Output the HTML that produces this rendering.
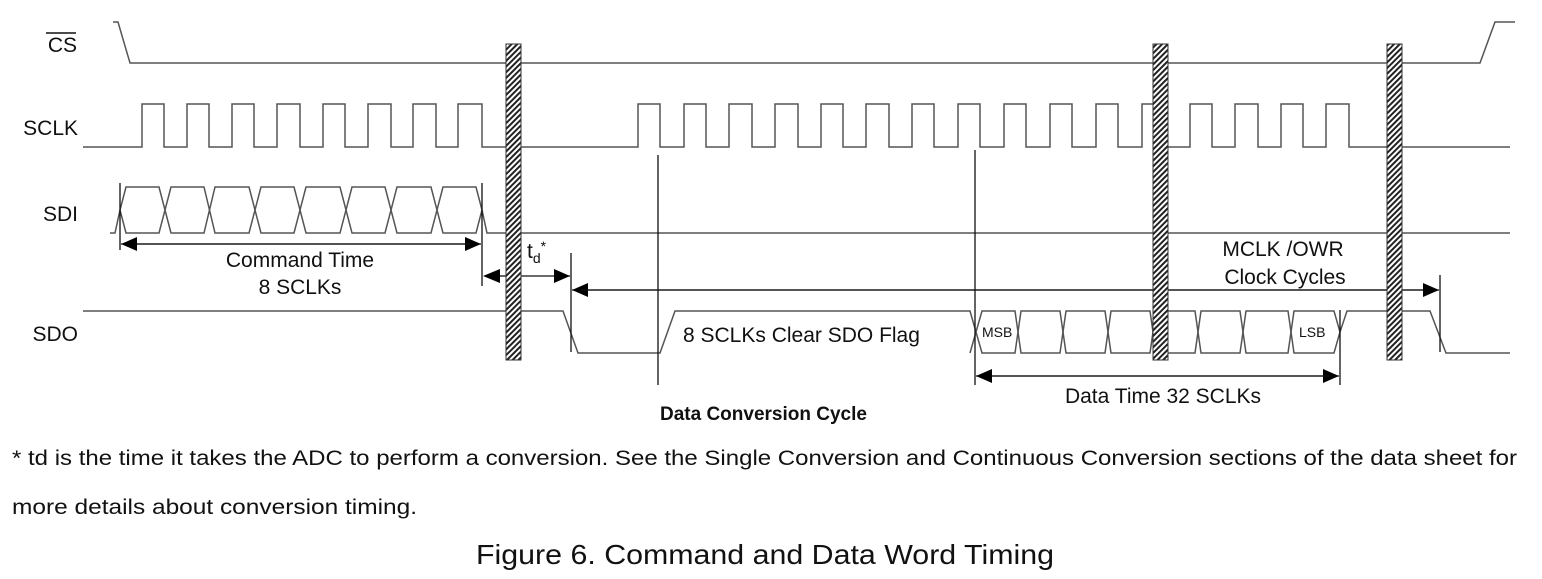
<!DOCTYPE html>
<html><head><meta charset="utf-8"><style>
html,body{margin:0;padding:0;background:#fff;}
svg{display:block;}
text{font-family:"Liberation Sans",sans-serif;fill:#111;}
</style></head><body>
<svg width="1542" height="579" viewBox="0 0 1542 579" xmlns="http://www.w3.org/2000/svg">
<defs>
<pattern id="h" width="4" height="4" patternUnits="userSpaceOnUse" patternTransform="rotate(45)">
<rect width="4" height="4" fill="#fff"/><rect width="2" height="4" fill="#222"/>
</pattern>
<marker id="ar" markerWidth="16" markerHeight="14" refX="16" refY="7" orient="auto" markerUnits="userSpaceOnUse"><path d="M0,0 L16,7 L0,14 z" fill="#000"/></marker>
</defs>
<g stroke="#555" stroke-width="1.5" fill="none">
<polyline points="113,22 118,22 130,63 1480,63 1495,22 1515,22"/>
<polyline points="83,147 142,147 142,104 164,104 164,147 187,147 187,104 209,104 209,147 232,147 232,104 254,104 254,147 277,147 277,104 300,104 300,147 323,147 323,104 345,104 345,147 368,147 368,104 391,104 391,147 413,147 413,104 436,104 436,147 458,147 458,104 482,104 482,147 638,147 638,104 660,104 660,147 684,147 684,104 706,104 706,147 729,147 729,104 752,104 752,147 775,147 775,104 798,104 798,147 821,147 821,104 843,104 843,147 866,147 866,104 889,104 889,147 912,147 912,104 934,104 934,147 958,147 958,104 980,104 980,147 1004,147 1004,104 1026,104 1026,147 1050,147 1050,104 1072,104 1072,147 1096,147 1096,104 1118,104 1118,147 1142,147 1142,104 1164,104 1164,147 1190,147 1190,104 1212,104 1212,147 1235,147 1235,104 1258,104 1258,147 1281,147 1281,104 1303,104 1303,147 1326,147 1326,104 1349,104 1349,147 1510,147"/>
<polyline points="110,233 115,233 120,210"/>
<polyline points="482,210 487,233 1510,233"/>
<path d="M120,210 L126,187 L159,187 L171,233 L204,233 L215,187 L249,187 L261,233 L294,233 L306,187 L340,187 L352,233 L385,233 L397,187 L431,187 L443,233 L476,233 L482,210"/>
<path d="M120,210 L126,233 L159,233 L171,187 L204,187 L215,233 L249,233 L261,187 L294,187 L306,233 L340,233 L352,187 L385,187 L397,233 L431,233 L443,187 L476,187 L482,210"/>
<polyline points="83,311 560,311 563,311 578,353 660,353 675,311 970,311 976,332"/>
<path d="M976,332 L982,311 L1015,311 L1021,353 L1060,353 L1066,311 L1105,311 L1111,353 L1150,353 L1156,311 L1195,311 L1201,353 L1240,353 L1246,311 L1288,311 L1294,353 L1334,353 L1340,332"/>
<path d="M976,332 L982,353 L1015,353 L1021,311 L1060,311 L1066,353 L1105,353 L1111,311 L1150,311 L1156,353 L1195,353 L1201,311 L1240,311 L1246,353 L1288,353 L1294,311 L1334,311 L1340,332"/>
<polyline points="970,353 976,332"/>
<polyline points="1340,332 1347,311 1430,311 1446,353 1510,353"/>
</g>
<g stroke="#111" stroke-width="1.3" fill="none">
<line x1="120" y1="183" x2="120" y2="250"/>
<line x1="482" y1="183" x2="482" y2="286"/>
<line x1="571" y1="253" x2="571" y2="352"/>
<line x1="1440" y1="275" x2="1440" y2="352"/>
<line x1="658" y1="155" x2="658" y2="385"/>
<line x1="975" y1="150" x2="975" y2="385"/>
<line x1="1340" y1="310" x2="1340" y2="385"/>
<line x1="130" y1="244" x2="481" y2="244" marker-end="url(#ar)"/>
<line x1="470" y1="244" x2="121" y2="244" marker-end="url(#ar)"/>
<path d="M483,276 L500,269 L500,283 z" fill="#000" stroke="none"/>
<line x1="500" y1="276" x2="506" y2="276"/>
<line x1="521" y1="276" x2="570" y2="276" marker-end="url(#ar)"/>
<line x1="1430" y1="290" x2="572" y2="290" marker-end="url(#ar)"/>
<line x1="581" y1="290" x2="1439" y2="290" marker-end="url(#ar)"/>
<line x1="985" y1="376" x2="1339" y2="376" marker-end="url(#ar)"/>
<line x1="1330" y1="376" x2="976" y2="376" marker-end="url(#ar)"/>
</g>
<rect x="506" y="44" width="15" height="316" fill="url(#h)" stroke="#333" stroke-width="1"/>
<rect x="1153" y="44" width="15" height="316" fill="url(#h)" stroke="#333" stroke-width="1"/>
<rect x="1387" y="44" width="15" height="316" fill="url(#h)" stroke="#333" stroke-width="1"/>
<g font-size="21">
<text x="77" y="52" text-anchor="end">CS</text>
<line x1="46" y1="33" x2="76" y2="33" stroke="#111" stroke-width="1.5"/>
<text x="78" y="135" text-anchor="end">SCLK</text>
<text x="78" y="221" text-anchor="end">SDI</text>
<text x="78" y="341" text-anchor="end">SDO</text>
<text x="300" y="267" text-anchor="middle">Command Time</text>
<text x="300" y="294" text-anchor="middle">8 SCLKs</text>
<text x="527" y="258">t<tspan font-size="14" dy="5">d</tspan><tspan font-size="14" dy="-12">*</tspan></text>
<text x="1283" y="256" text-anchor="middle">MCLK /OWR</text>
<text x="1285" y="284" text-anchor="middle">Clock Cycles</text>
<text x="683" y="342">8 SCLKs Clear SDO Flag</text>
<text x="1163" y="403" text-anchor="middle">Data Time 32 SCLKs</text>
</g>
<text x="982" y="337" font-size="14">MSB</text>
<text x="1299" y="337" font-size="14">LSB</text>
<text x="660" y="420" font-size="19" font-weight="bold">Data Conversion Cycle</text>
<text x="12" y="465" font-size="21" textLength="1505" lengthAdjust="spacingAndGlyphs">* td is the time it takes the ADC to perform a conversion. See the Single Conversion and Continuous Conversion sections of the data sheet for</text>
<text x="12" y="514" font-size="21" textLength="405" lengthAdjust="spacingAndGlyphs">more details about conversion timing.</text>
<text x="476" y="564" font-size="28" textLength="578" lengthAdjust="spacingAndGlyphs">Figure 6. Command and Data Word Timing</text>
</svg>
</body></html>
